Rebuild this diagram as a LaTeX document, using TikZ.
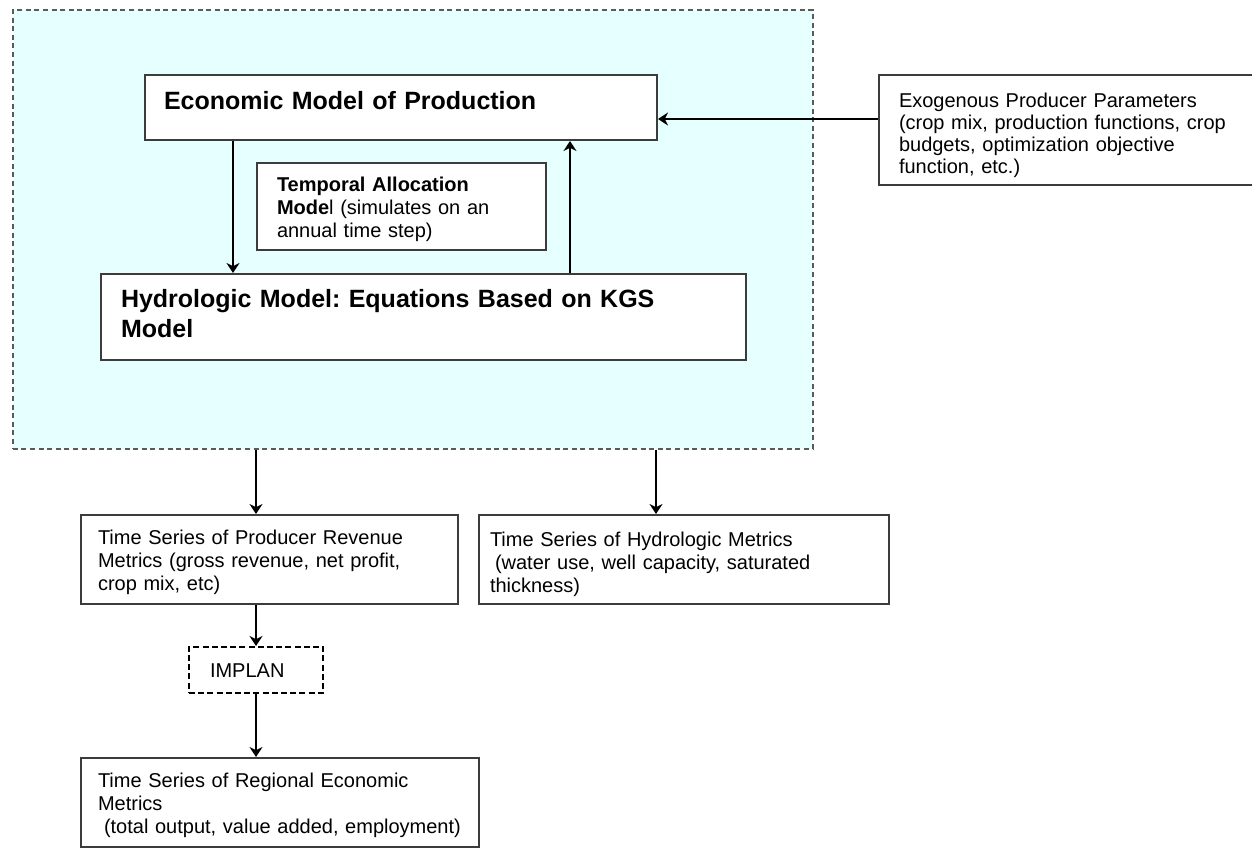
\documentclass[tikz,border=0pt]{standalone}
\usepackage{fontspec}
\setmainfont{Liberation Sans}
\usetikzlibrary{arrows.meta}

\definecolor{zonefill}{RGB}{230,255,255}
\definecolor{zoneline}{RGB}{90,90,90}
\definecolor{boxline}{RGB}{60,60,60}

\frenchspacing

\begin{document}
\begin{tikzpicture} [ x=0.5pt, y=-0.5pt
                    , box/.style={draw=boxline, line width=1pt, fill=white, anchor=north west, align=left, inner ysep=0pt, font=\fontsize{10}{11.5}\selectfont}
                    , hbox/.style={box, font=\fontsize{12.5}{15}\selectfont\bfseries}
                    , zone/.style={draw=zoneline, line width=0.8pt, dash pattern=on 2.5pt off 1.8pt, fill=zonefill, anchor=north west, inner sep=0pt}
                    , link/.style={line width=1pt, -{Stealth[length=5pt, width=6.5pt, inset=1.6pt]}}
                    ]

  \useasboundingbox (0,0) rectangle (1252,848);

  % --- Model Zone -------------------------------------------------------------
  \node [ zone
        , minimum width=400pt
        , minimum height=219.5pt
        ]
        (zone) at (12,9) {};

  \node [ hbox
        , inner xsep=9.5pt
        , text width=237pt
        , text height=17.35pt
        , text depth=15.15pt
        ]
        (econ) at (144,74) {Economic Model of Production};

  \node [ box
        , inner xsep=10pt
        , text width=124.5pt
        , text height=14pt
        , text depth=29.5pt
        ]
        (temporal) at (256,162) {\textbf{Temporal Allocation}\\\textbf{Mode}l (simulates on an\\annual time step)};

  \node [ hbox
        , inner xsep=10pt
        , text width=302.5pt
        , text height=16.5pt
        , text depth=26.5pt
        ]
        (hydro) at (100,273) {Hydrologic Model: Equations Based on KGS\\Model};
  % ---------------------------------------------------------------------------

  % --- Inputs ----------------------------------------------------------------
  \node [ box
        , inner xsep=10pt
        , text width=172pt
        , text height=16pt
        , text depth=39pt
        , font=\fontsize{10}{11}\selectfont
        ]
        (exo) at (878,74) {Exogenous Producer Parameters\\(crop mix, production functions, crop\\budgets, optimization objective\\function, etc.)};
  % ---------------------------------------------------------------------------

  % --- Outputs ---------------------------------------------------------------
  \node [ box
        , inner xsep=8.5pt
        , text width=171.5pt
        , text height=14.8pt
        , text depth=29.7pt
        ]
        (revenue) at (80,514) {Time Series of Producer Revenue\\Metrics (gross revenue, net profit,\\crop mix, etc)};

  \node [ box
        , inner xsep=5.5pt
        , text width=194pt
        , text height=15.5pt
        , text depth=29pt
        ]
        (hydrometrics) at (478,514) {Time Series of Hydrologic Metrics\\\hspace{2.5pt}(water use, well capacity, saturated\\thickness)};

  \node [ box
        , draw=black
        , dash pattern=on 3pt off 1.6pt
        , inner xsep=10.5pt
        , text width=46pt
        , text height=15pt
        , text depth=8pt
        ]
        (implan) at (188,646) {IMPLAN};

  \node [ box
        , inner xsep=8.5pt
        , text width=182pt
        , text height=14.5pt
        , text depth=30pt
        ]
        (regional) at (80,757) {Time Series of Regional Economic\\Metrics\\\hspace{3pt}(total output, value added, employment)};
  % ---------------------------------------------------------------------------

  % --- Connectors ------------------------------------------------------------
  \draw [link] ([xshift=44.5pt]econ.south west) -- ([xshift=44.5pt]econ.south west |- hydro.north);
  \draw [link] ([xshift=-44pt]econ.south east |- hydro.north) -- ([xshift=-44pt]econ.south east);
  \draw [link] ([yshift=5.5pt]exo.west) -- ([yshift=5.5pt]exo.west -| econ.east);

  \draw [link] ([xshift=122pt]zone.south west) -- ([xshift=122pt]zone.south west |- revenue.north);
  \draw [link] ([xshift=322pt]zone.south west) -- ([xshift=322pt]zone.south west |- hydrometrics.north);
  \draw [link] (implan.north |- revenue.south) -- (implan.north);
  \draw [link] (implan.south) -- (implan.south |- regional.north);
  % ---------------------------------------------------------------------------
\end{tikzpicture}
\end{document}
